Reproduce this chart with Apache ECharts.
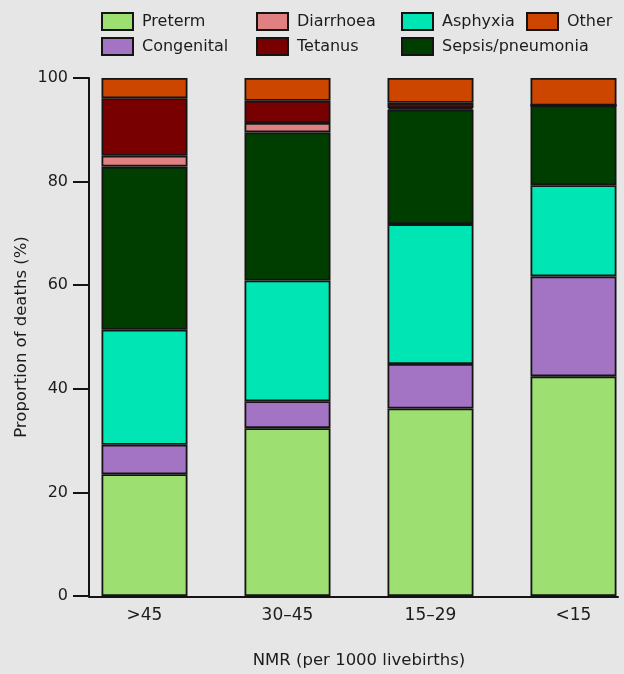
<!DOCTYPE html>
<html>
<head>
<meta charset="utf-8">
<script src="https://cdn.jsdelivr.net/npm/echarts@6/dist/echarts.min.js"></script>
<style>
  html, body { margin: 0; padding: 0; background: #e6e6e6; overflow: hidden; }
  #chart { width: 660px; height: 674px; }
</style>
</head>
<body>
<div id="chart"></div>
<script>
// Cause-of-death composition by neonatal mortality rate band (%)
const categories = ['>45', '30–45', '15–29', '<15'];
const preterm    = [23.5, 32.4, 36.2, 42.4];
const congenital = [5.7, 5.2, 8.6, 19.3];
const asphyxia   = [22.2, 23.3, 27.0, 17.6];
const sepsis     = [31.5, 28.6, 22.1, 15.4];
const diarrhoea  = [2.1, 1.8, 0.3, 0];
const tetanus    = [11.1, 4.3, 1.0, 0];
const other      = [3.9, 4.4, 4.8, 5.3];
const yTicks     = [0, 20, 40, 60, 80, 100];

const FONT = 'DejaVu Sans';
const INK = '#1c1c1c';
const EDGE = '#141414';

const seriesDefs = [
  { name: 'Preterm', data: preterm, color: '#9ddf70' },
  { name: 'Congenital', data: congenital, color: '#a474c4' },
  { name: 'Asphyxia', data: asphyxia, color: '#00e5b4' },
  { name: 'Sepsis/pneumonia', data: sepsis, color: '#003e00' },
  { name: 'Diarrhoea', data: diarrhoea, color: '#e08080' },
  { name: 'Tetanus', data: tetanus, color: '#780000' },
  { name: 'Other', data: other, color: '#cc4600' }
];

const legendText = { fontFamily: FONT, fontSize: 16, color: INK, lineHeight: 18, padding: [0, 0, 0, 4] };
function legendColumn(left, names) {
  return {
    data: names, left: left, top: 12, orient: 'vertical', padding: 0,
    itemWidth: 31, itemHeight: 17, itemGap: 6,
    icon: 'rect', textStyle: legendText,
    itemStyle: { borderColor: EDGE, borderWidth: 2 },
    selectedMode: false
  };
}

const chart = echarts.init(document.getElementById('chart'));
chart.setOption({
  backgroundColor: '#e6e6e6',
  animation: false,
  legend: [
    legendColumn(101, ['Preterm', 'Congenital']),
    legendColumn(256, ['Diarrhoea', 'Tetanus']),
    legendColumn(401, ['Asphyxia', 'Sepsis/pneumonia']),
    legendColumn(526, ['Other'])
  ],
  grid: [
    { left: 73, right: 15, top: 78, bottom: 77 },
    { left: 89, right: 42, top: 78, bottom: 77 }
  ],
  xAxis: [
    {
      type: 'category', gridIndex: 0, data: categories,
      axisLine: { show: false }, axisTick: { show: false },
      axisLabel: { fontFamily: FONT, fontSize: 17, color: INK, margin: 11 },
      name: 'NMR (per 1000 livebirths)', nameLocation: 'middle', nameGap: 56,
      nameTextStyle: { fontFamily: FONT, fontSize: 16.5, color: INK }
    },
    {
      type: 'category', gridIndex: 1, data: categories,
      axisLine: { show: true, lineStyle: { color: EDGE, width: 2 } },
      axisTick: { show: false }, axisLabel: { show: false }
    }
  ],
  yAxis: [
    {
      type: 'value', gridIndex: 0, min: yTicks[0], max: yTicks[yTicks.length - 1],
      interval: yTicks[1] - yTicks[0], offset: -16,
      axisLine: { show: true, lineStyle: { color: EDGE, width: 2 } },
      axisTick: { show: true, length: 16, lineStyle: { color: EDGE, width: 2 } },
      axisLabel: { fontFamily: FONT, fontSize: 16, color: INK, margin: 21 },
      splitLine: { show: false },
      name: 'Proportion of deaths (%)', nameLocation: 'middle', nameGap: 59,
      nameMoveOverlap: false,
      nameTextStyle: { fontFamily: FONT, fontSize: 16.5, color: INK }
    },
    { type: 'value', gridIndex: 1, show: false, min: 0, max: 100 }
  ],
  series: seriesDefs.map(s => ({
    name: s.name, type: 'bar', stack: 'total', data: s.data,
    xAxisIndex: 0, yAxisIndex: 0, barWidth: 86,
    itemStyle: { color: s.color, borderColor: EDGE, borderWidth: 1.8 }
  }))
});
</script>
</body>
</html>
